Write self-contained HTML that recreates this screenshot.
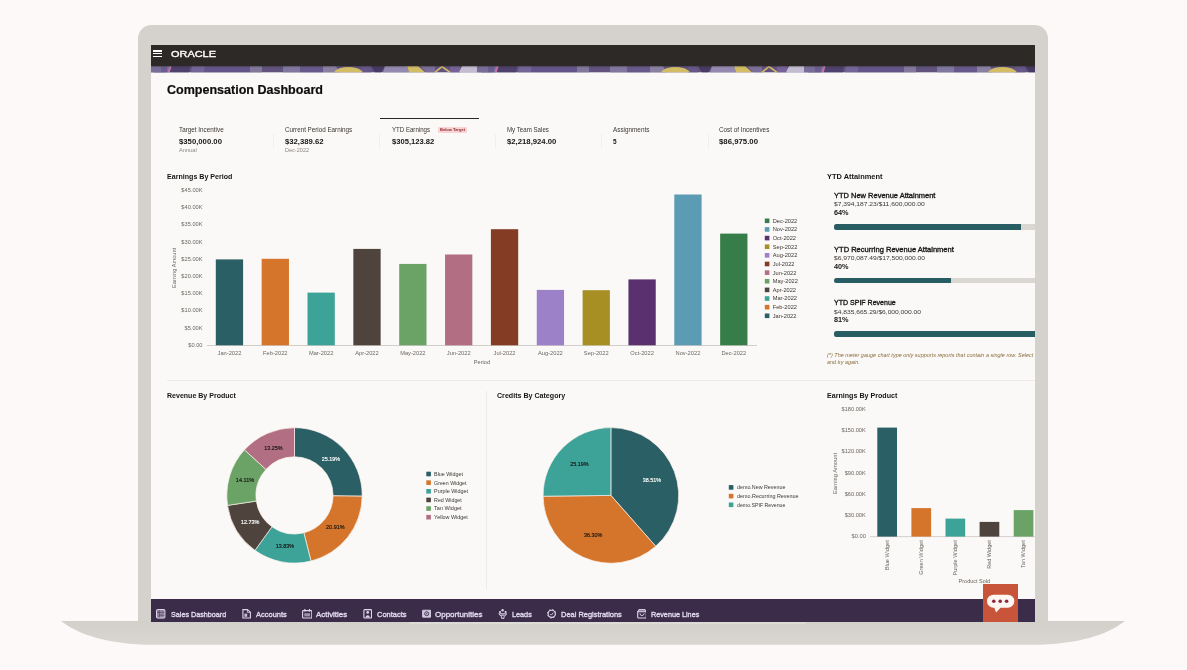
<!DOCTYPE html>
<html lang="en"><head><meta charset="utf-8"><title>Compensation Dashboard</title>
<style>
html,body{margin:0;padding:0}
body{width:1187px;height:670px;overflow:hidden;background:#fdf9f8;font-family:"Liberation Sans",sans-serif;position:relative}
.abs{position:absolute}
.full{position:absolute;left:0;top:0;overflow:visible}
svg text{font-family:"Liberation Sans",sans-serif}
.t{position:absolute;white-space:nowrap;display:block}
h1,h2{margin:0;font-size:inherit;font-weight:inherit}
.bezel{left:138px;top:25.4px;width:910px;height:596.6px;background:#d5d1cc;border-radius:13.5px 13.5px 0 0}
.screen{left:151px;top:45px;width:884px;height:576.6px;background:#fbf9f8;overflow:hidden}
.pg{position:absolute;left:-151px;top:-45px;width:1187px;height:670px}
.menu i{display:block;height:1.5px;background:#fff;margin-bottom:1.25px}
.badge{background:#f8d4d6;border-radius:1px}
.track{background:#dad7d3;border-radius:2.5px;overflow:hidden}
.track div{height:100%;background:#285d63}
.semi{-webkit-text-stroke:0.33px currentColor}
.semi2{-webkit-text-stroke:0.4px currentColor}
.navi{text-decoration:none}
.logo{-webkit-text-stroke:0.35px #fff}
</style></head>
<body>
<div class="abs bezel"></div>
<svg class="full" width="1187" height="670" viewBox="0 0 1187 670"><defs><linearGradient id="bg" x1="0" y1="0" x2="0" y2="1"><stop offset="0" stop-color="#d3cfca"/><stop offset="1" stop-color="#d9d6d1"/></linearGradient></defs>
<path d="M61,621H1125C1111,632 1086,643 1041,644.7H145C100,643 75,632 61,621Z" fill="url(#bg)"/></svg>
<div class="abs" style="left:409px;top:621.6px;width:397px;height:2px;background:#dedbd7;border-radius:0 0 2px 2px"></div>
<div class="abs screen"><div class="pg">
<header class="abs" style="left:151px;top:45px;width:884px;height:21.6px;background:#2d2927"></header>
<div class="abs menu" style="left:153px;top:50.2px;width:9.4px;height:7px"><i></i><i></i><i></i></div>
<span class="t logo" style="left:170.60px;top:49.00px;font-size:8.6px;line-height:10.00px;color:#fff;transform:scaleX(1.272);transform-origin:left center;">ORACLE</span>
<svg class="abs" style="left:151px;top:66.4px" width="884" height="6.3" viewBox="151 0 884 6.4" preserveAspectRatio="none"><rect x="151" y="0" width="884" height="6.4" fill="#675987"/><polygon points="135.0,0 151.0,0 154.0,6.4 132.0,6.4" fill="#d5cee6"/><polygon points="153.0,0 163.0,0 163.0,6.4 154.0,6.4" fill="#4a3d6a"/><polygon points="163.0,0 169.0,0 169.0,6.4 163.0,6.4" fill="#8175a6"/><polygon points="150.0,0 161.0,0 161.0,6.4 150.0,6.4" fill="#8175a6"/><polygon points="161.0,0 167.0,0 167.0,6.4 161.0,6.4" fill="#70629a"/><polygon points="169.5,0 171.5,0 169.8,6.4 167.5,6.4" fill="#d77bb0"/><polygon points="172.0,0 190.0,0 189.0,6.4 170.0,6.4" fill="#524473"/><polygon points="192.0,0 205.0,0 204.0,6.4 191.0,6.4" fill="#7b6ea3"/><polygon points="205.0,0 250.0,0 250.0,6.4 204.0,6.4" fill="#695b92"/><polygon points="250.0,0 262.0,0 262.0,6.4 250.0,6.4" fill="#8b82a8"/><polygon points="283.0,0 300.0,0 300.0,6.4 283.0,6.4" fill="#8a80ac"/><polygon points="300.0,0 323.0,0 323.0,6.4 300.0,6.4" fill="#6e6096"/><polygon points="323.0,0 336.0,0 339.0,6.4 323.0,6.4" fill="#958bae"/><polygon points="361.0,0 371.0,0 371.0,6.4 361.0,6.4" fill="#6b5d92"/><polygon points="371.0,0 385.0,0 381.0,6.4 375.0,6.4" fill="#4a3d6a"/><polygon points="385.0,0 407.0,0 409.0,6.4 383.0,6.4" fill="#a096bf"/><polygon points="407.0,0 418.0,0 425.0,6.4 409.0,6.4" fill="#e6cd6e"/><polygon points="420.0,0 435.0,0 435.0,6.4 426.0,6.4" fill="#8477a5"/><polygon points="450.0,0 460.0,0 460.0,6.4 450.0,6.4" fill="#7f68a6"/><polygon points="462.0,0 478.0,0 481.0,6.4 459.0,6.4" fill="#d5cee6"/><polygon points="480.0,0 490.0,0 490.0,6.4 481.0,6.4" fill="#4a3d6a"/><polygon points="490.0,0 496.0,0 496.0,6.4 490.0,6.4" fill="#8175a6"/><path d="M334,6.4C338,-0.5 358,-1 363,6.4Z" fill="#e6cd6e"/><path d="M435,6.4L442,0.5L450,6.4" fill="none" stroke="#e6cd6e" stroke-width="1.6"/><polygon points="477.0,0 488.0,0 488.0,6.4 477.0,6.4" fill="#8175a6"/><polygon points="488.0,0 494.0,0 494.0,6.4 488.0,6.4" fill="#70629a"/><polygon points="496.5,0 498.5,0 496.8,6.4 494.5,6.4" fill="#d77bb0"/><polygon points="499.0,0 517.0,0 516.0,6.4 497.0,6.4" fill="#524473"/><polygon points="519.0,0 532.0,0 531.0,6.4 518.0,6.4" fill="#7b6ea3"/><polygon points="532.0,0 577.0,0 577.0,6.4 531.0,6.4" fill="#695b92"/><polygon points="577.0,0 589.0,0 589.0,6.4 577.0,6.4" fill="#8b82a8"/><polygon points="610.0,0 627.0,0 627.0,6.4 610.0,6.4" fill="#8a80ac"/><polygon points="627.0,0 650.0,0 650.0,6.4 627.0,6.4" fill="#6e6096"/><polygon points="650.0,0 663.0,0 666.0,6.4 650.0,6.4" fill="#958bae"/><polygon points="688.0,0 698.0,0 698.0,6.4 688.0,6.4" fill="#6b5d92"/><polygon points="698.0,0 712.0,0 708.0,6.4 702.0,6.4" fill="#4a3d6a"/><polygon points="712.0,0 734.0,0 736.0,6.4 710.0,6.4" fill="#a096bf"/><polygon points="734.0,0 745.0,0 752.0,6.4 736.0,6.4" fill="#e6cd6e"/><polygon points="747.0,0 762.0,0 762.0,6.4 753.0,6.4" fill="#8477a5"/><polygon points="777.0,0 787.0,0 787.0,6.4 777.0,6.4" fill="#7f68a6"/><polygon points="789.0,0 805.0,0 808.0,6.4 786.0,6.4" fill="#d5cee6"/><polygon points="807.0,0 817.0,0 817.0,6.4 808.0,6.4" fill="#4a3d6a"/><polygon points="817.0,0 823.0,0 823.0,6.4 817.0,6.4" fill="#8175a6"/><path d="M661,6.4C665,-0.5 685,-1 690,6.4Z" fill="#e6cd6e"/><path d="M762,6.4L769,0.5L777,6.4" fill="none" stroke="#e6cd6e" stroke-width="1.6"/><polygon points="804.0,0 815.0,0 815.0,6.4 804.0,6.4" fill="#8175a6"/><polygon points="815.0,0 821.0,0 821.0,6.4 815.0,6.4" fill="#70629a"/><polygon points="823.5,0 825.5,0 823.8,6.4 821.5,6.4" fill="#d77bb0"/><polygon points="826.0,0 844.0,0 843.0,6.4 824.0,6.4" fill="#524473"/><polygon points="846.0,0 859.0,0 858.0,6.4 845.0,6.4" fill="#7b6ea3"/><polygon points="859.0,0 904.0,0 904.0,6.4 858.0,6.4" fill="#695b92"/><polygon points="904.0,0 916.0,0 916.0,6.4 904.0,6.4" fill="#8b82a8"/><polygon points="937.0,0 954.0,0 954.0,6.4 937.0,6.4" fill="#8a80ac"/><polygon points="954.0,0 977.0,0 977.0,6.4 954.0,6.4" fill="#6e6096"/><polygon points="977.0,0 990.0,0 993.0,6.4 977.0,6.4" fill="#958bae"/><polygon points="1015.0,0 1025.0,0 1025.0,6.4 1015.0,6.4" fill="#6b5d92"/><polygon points="1025.0,0 1039.0,0 1035.0,6.4 1029.0,6.4" fill="#4a3d6a"/><path d="M988,6.4C992,-0.5 1012,-1 1017,6.4Z" fill="#e6cd6e"/><rect x="151" y="0" width="884" height="6.4" fill="#2d2927" opacity=".1"/><rect x="151" y="0" width="884" height="1.2" fill="#2d2927" opacity=".35"/></svg>
<h1 class="abs0"><span class="t " style="left:167.00px;top:83.00px;font-size:12.4px;line-height:14.00px;color:#0e0d0c;transform:scaleX(1.011);transform-origin:left center;font-weight:700;-webkit-text-stroke:0.2px #0e0d0c;">Compensation Dashboard</span></h1>
<div class="tabs">
<div class="abs" style="left:379.5px;top:117.6px;width:99.7px;height:1.4px;background:#2b2725"></div>
<div class="tab"><span class="t " style="left:178.90px;top:126.00px;font-size:6.8px;line-height:7.00px;color:#3a3632;transform:scaleX(0.931);transform-origin:left center;">Target Incentive</span><span class="t " style="left:178.90px;top:137.00px;font-size:7.7px;line-height:9.00px;color:#161513;transform:scaleX(1.004);transform-origin:left center;font-weight:700;">$350,000.00</span><span class="t " style="left:178.90px;top:147.00px;font-size:5.6px;line-height:6.00px;color:#8c8782;transform:scaleX(1.015);transform-origin:left center;">Annual</span></div>
<div class="tab"><span class="t " style="left:285.10px;top:126.00px;font-size:6.8px;line-height:7.00px;color:#3a3632;transform:scaleX(0.921);transform-origin:left center;">Current Period Earnings</span><span class="t " style="left:285.10px;top:137.00px;font-size:7.7px;line-height:9.00px;color:#161513;transform:scaleX(1.002);transform-origin:left center;font-weight:700;">$32,389.62</span><span class="t " style="left:285.10px;top:147.00px;font-size:5.6px;line-height:6.00px;color:#8c8782;transform:scaleX(0.992);transform-origin:left center;">Dec-2022</span></div>
<div class="tab"><span class="t " style="left:392.00px;top:126.00px;font-size:6.8px;line-height:7.00px;color:#3a3632;transform:scaleX(0.898);transform-origin:left center;">YTD Earnings</span><span class="t " style="left:392.00px;top:137.00px;font-size:7.7px;line-height:9.00px;color:#161513;transform:scaleX(0.990);transform-origin:left center;font-weight:700;">$305,123.82</span></div>
<span class="abs badge" style="left:438px;top:127.2px;width:28.8px;height:5.6px"></span><span class="t " style="left:440.00px;top:127.00px;font-size:4.3px;line-height:5.00px;color:#8f2a2a;transform:scaleX(0.937);transform-origin:left center;font-weight:700;">Below Target</span>
<div class="tab"><span class="t " style="left:506.50px;top:126.00px;font-size:6.8px;line-height:7.00px;color:#3a3632;transform:scaleX(0.904);transform-origin:left center;">My Team Sales</span><span class="t " style="left:506.50px;top:137.00px;font-size:7.7px;line-height:9.00px;color:#161513;transform:scaleX(1.005);transform-origin:left center;font-weight:700;">$2,218,924.00</span></div>
<div class="tab"><span class="t " style="left:612.60px;top:126.00px;font-size:6.8px;line-height:7.00px;color:#3a3632;transform:scaleX(0.935);transform-origin:left center;">Assignments</span><span class="t " style="left:612.60px;top:137.00px;font-size:7.7px;line-height:9.00px;color:#161513;transform:scaleX(0.841);transform-origin:left center;font-weight:700;">5</span></div>
<div class="tab"><span class="t " style="left:718.70px;top:126.00px;font-size:6.8px;line-height:7.00px;color:#3a3632;transform:scaleX(0.931);transform-origin:left center;">Cost of Incentives</span><span class="t " style="left:718.70px;top:137.00px;font-size:7.7px;line-height:9.00px;color:#161513;transform:scaleX(1.015);transform-origin:left center;font-weight:700;">$86,975.00</span></div>
<div class="abs" style="left:272.7px;top:134px;width:1px;height:14px;background:#f1eeeb"></div>
<div class="abs" style="left:379.2px;top:134px;width:1px;height:14px;background:#f1eeeb"></div>
<div class="abs" style="left:494.5px;top:134px;width:1px;height:14px;background:#f1eeeb"></div>
<div class="abs" style="left:601px;top:134px;width:1px;height:14px;background:#f1eeeb"></div>
<div class="abs" style="left:707.5px;top:134px;width:1px;height:14px;background:#f1eeeb"></div>
</div>
<section class="card">
<h2 class="abs0"><span class="t " style="left:166.90px;top:172.00px;font-size:7.3px;line-height:9.00px;color:#161513;transform:scaleX(0.971);transform-origin:left center;font-weight:700;">Earnings By Period</span></h2>
<svg class="full" width="1187" height="670" viewBox="0 0 1187 670">
<text x="181.39" y="192.09" font-size="5.5" fill="#6a655f" textLength="21.11" lengthAdjust="spacingAndGlyphs">$45.00K</text>
<text x="181.39" y="209.29" font-size="5.5" fill="#6a655f" textLength="21.11" lengthAdjust="spacingAndGlyphs">$40.00K</text>
<text x="181.39" y="226.49" font-size="5.5" fill="#6a655f" textLength="21.11" lengthAdjust="spacingAndGlyphs">$35.00K</text>
<text x="181.39" y="243.69" font-size="5.5" fill="#6a655f" textLength="21.11" lengthAdjust="spacingAndGlyphs">$30.00K</text>
<text x="181.39" y="260.89" font-size="5.5" fill="#6a655f" textLength="21.11" lengthAdjust="spacingAndGlyphs">$25.00K</text>
<text x="181.39" y="278.09" font-size="5.5" fill="#6a655f" textLength="21.11" lengthAdjust="spacingAndGlyphs">$20.00K</text>
<text x="181.39" y="295.29" font-size="5.5" fill="#6a655f" textLength="21.11" lengthAdjust="spacingAndGlyphs">$15.00K</text>
<text x="181.39" y="312.49" font-size="5.5" fill="#6a655f" textLength="21.11" lengthAdjust="spacingAndGlyphs">$10.00K</text>
<text x="184.54" y="329.69" font-size="5.5" fill="#6a655f" textLength="17.96" lengthAdjust="spacingAndGlyphs">$5.00K</text>
<text x="188.32" y="346.89" font-size="5.5" fill="#6a655f" textLength="14.18" lengthAdjust="spacingAndGlyphs">$0.00</text>
<rect x="206.7" y="345" width="550.3" height="0.8" fill="#c9c5c0"/>
<rect x="215.80" y="259.4" width="27.3" height="85.90" fill="#2a5f65"/>
<text x="217.55" y="355.09" font-size="5.5" fill="#6a655f" textLength="23.80" lengthAdjust="spacingAndGlyphs">Jan-2022</text>
<rect x="261.65" y="258.8" width="27.3" height="86.50" fill="#d4752b"/>
<text x="263.08" y="355.09" font-size="5.5" fill="#6a655f" textLength="24.43" lengthAdjust="spacingAndGlyphs">Feb-2022</text>
<rect x="307.50" y="292.6" width="27.3" height="52.70" fill="#3da398"/>
<text x="308.94" y="355.09" font-size="5.5" fill="#6a655f" textLength="24.43" lengthAdjust="spacingAndGlyphs">Mar-2022</text>
<rect x="353.35" y="248.9" width="27.3" height="96.40" fill="#4e443d"/>
<text x="355.26" y="355.09" font-size="5.5" fill="#6a655f" textLength="23.48" lengthAdjust="spacingAndGlyphs">Apr-2022</text>
<rect x="399.20" y="263.9" width="27.3" height="81.40" fill="#6ba266"/>
<text x="400.16" y="355.09" font-size="5.5" fill="#6a655f" textLength="25.38" lengthAdjust="spacingAndGlyphs">May-2022</text>
<rect x="445.05" y="254.5" width="27.3" height="90.80" fill="#b26e83"/>
<text x="446.80" y="355.09" font-size="5.5" fill="#6a655f" textLength="23.80" lengthAdjust="spacingAndGlyphs">Jun-2022</text>
<rect x="490.90" y="229.2" width="27.3" height="116.10" fill="#853c24"/>
<text x="493.60" y="355.09" font-size="5.5" fill="#6a655f" textLength="21.89" lengthAdjust="spacingAndGlyphs">Jul-2022</text>
<rect x="536.75" y="289.9" width="27.3" height="55.40" fill="#9c80c8"/>
<text x="538.02" y="355.09" font-size="5.5" fill="#6a655f" textLength="24.75" lengthAdjust="spacingAndGlyphs">Aug-2022</text>
<rect x="582.60" y="290.2" width="27.3" height="55.10" fill="#a88f24"/>
<text x="583.87" y="355.09" font-size="5.5" fill="#6a655f" textLength="24.75" lengthAdjust="spacingAndGlyphs">Sep-2022</text>
<rect x="628.45" y="279.4" width="27.3" height="65.90" fill="#5a306f"/>
<text x="630.36" y="355.09" font-size="5.5" fill="#6a655f" textLength="23.48" lengthAdjust="spacingAndGlyphs">Oct-2022</text>
<rect x="674.30" y="194.5" width="27.3" height="150.80" fill="#5c9bb4"/>
<text x="675.58" y="355.09" font-size="5.5" fill="#6a655f" textLength="24.75" lengthAdjust="spacingAndGlyphs">Nov-2022</text>
<rect x="720.15" y="233.6" width="27.3" height="111.70" fill="#367d4a"/>
<text x="721.43" y="355.09" font-size="5.5" fill="#6a655f" textLength="24.75" lengthAdjust="spacingAndGlyphs">Dec-2022</text>
<text x="473.80" y="364.39" font-size="5.2" fill="#6a655f" textLength="16.20" lengthAdjust="spacingAndGlyphs">Period</text>
<text x="154.30" y="269.80" font-size="5.2" fill="#6a655f" textLength="40.30" lengthAdjust="spacingAndGlyphs" transform="rotate(-90 174.40 268.00)">Earning Amount</text>
<rect x="764.8" y="218.50" width="4.6" height="4.6" fill="#367d4a"/>
<text x="772.70" y="222.73" font-size="5.6" fill="#3a3632" textLength="24.60" lengthAdjust="spacingAndGlyphs">Dec-2022</text>
<rect x="764.8" y="227.14" width="4.6" height="4.6" fill="#5c9bb4"/>
<text x="772.70" y="231.36" font-size="5.6" fill="#3a3632" textLength="24.60" lengthAdjust="spacingAndGlyphs">Nov-2022</text>
<rect x="764.8" y="235.77" width="4.6" height="4.6" fill="#5a306f"/>
<text x="772.70" y="240.00" font-size="5.6" fill="#3a3632" textLength="23.34" lengthAdjust="spacingAndGlyphs">Oct-2022</text>
<rect x="764.8" y="244.41" width="4.6" height="4.6" fill="#a88f24"/>
<text x="772.70" y="248.63" font-size="5.6" fill="#3a3632" textLength="24.61" lengthAdjust="spacingAndGlyphs">Sep-2022</text>
<rect x="764.8" y="253.04" width="4.6" height="4.6" fill="#9c80c8"/>
<text x="772.70" y="257.27" font-size="5.6" fill="#3a3632" textLength="24.61" lengthAdjust="spacingAndGlyphs">Aug-2022</text>
<rect x="764.8" y="261.68" width="4.6" height="4.6" fill="#853c24"/>
<text x="772.70" y="265.91" font-size="5.6" fill="#3a3632" textLength="21.76" lengthAdjust="spacingAndGlyphs">Jul-2022</text>
<rect x="764.8" y="270.32" width="4.6" height="4.6" fill="#b26e83"/>
<text x="772.70" y="274.54" font-size="5.6" fill="#3a3632" textLength="23.66" lengthAdjust="spacingAndGlyphs">Jun-2022</text>
<rect x="764.8" y="278.95" width="4.6" height="4.6" fill="#6ba266"/>
<text x="772.70" y="283.18" font-size="5.6" fill="#3a3632" textLength="25.23" lengthAdjust="spacingAndGlyphs">May-2022</text>
<rect x="764.8" y="287.59" width="4.6" height="4.6" fill="#4e443d"/>
<text x="772.70" y="291.81" font-size="5.6" fill="#3a3632" textLength="23.34" lengthAdjust="spacingAndGlyphs">Apr-2022</text>
<rect x="764.8" y="296.22" width="4.6" height="4.6" fill="#3da398"/>
<text x="772.70" y="300.45" font-size="5.6" fill="#3a3632" textLength="24.28" lengthAdjust="spacingAndGlyphs">Mar-2022</text>
<rect x="764.8" y="304.86" width="4.6" height="4.6" fill="#d4752b"/>
<text x="772.70" y="309.09" font-size="5.6" fill="#3a3632" textLength="24.29" lengthAdjust="spacingAndGlyphs">Feb-2022</text>
<rect x="764.8" y="313.50" width="4.6" height="4.6" fill="#2a5f65"/>
<text x="772.70" y="317.72" font-size="5.6" fill="#3a3632" textLength="23.66" lengthAdjust="spacingAndGlyphs">Jan-2022</text>
</svg></section>
<section class="card">
<h2 class="abs0"><span class="t " style="left:827.20px;top:172.00px;font-size:7.3px;line-height:9.00px;color:#161513;transform:scaleX(1.019);transform-origin:left center;font-weight:700;">YTD Attainment</span></h2>
<div class="meter">
<span class="t semi" style="left:834.40px;top:191.00px;font-size:7.4px;line-height:9.00px;color:#161513;transform:scaleX(1.012);transform-origin:left center;">YTD New Revenue Attainment</span>
<span class="t " style="left:834.40px;top:200.00px;font-size:6.2px;line-height:7.00px;color:#3a3632;transform:scaleX(1.082);transform-origin:left center;">$7,394,187.23/$11,600,000.00</span>
<span class="t " style="left:834.40px;top:209.00px;font-size:7px;line-height:7.00px;color:#161513;transform:scaleX(1.042);transform-origin:left center;font-weight:700;">64%</span>
<div class="abs track" style="left:834.4px;top:223.9px;width:291.9px;height:5.9px"><div style="width:186.8px"></div></div>
</div>
<div class="meter">
<span class="t semi" style="left:834.40px;top:245.00px;font-size:7.4px;line-height:9.00px;color:#161513;transform:scaleX(1.020);transform-origin:left center;">YTD Recurring Revenue Attainment</span>
<span class="t " style="left:834.40px;top:254.00px;font-size:6.2px;line-height:7.00px;color:#3a3632;transform:scaleX(1.080);transform-origin:left center;">$6,970,087.49/$17,500,000.00</span>
<span class="t " style="left:834.40px;top:263.00px;font-size:7px;line-height:7.00px;color:#161513;transform:scaleX(1.042);transform-origin:left center;font-weight:700;">40%</span>
<div class="abs track" style="left:834.4px;top:277.6px;width:291.9px;height:5.9px"><div style="width:116.8px"></div></div>
</div>
<div class="meter">
<span class="t semi" style="left:834.40px;top:298.00px;font-size:7.4px;line-height:9.00px;color:#161513;transform:scaleX(0.951);transform-origin:left center;">YTD SPIF Revenue</span>
<span class="t " style="left:834.40px;top:308.00px;font-size:6.2px;line-height:7.00px;color:#3a3632;transform:scaleX(1.075);transform-origin:left center;">$4,835,665.29/$6,000,000.00</span>
<span class="t " style="left:834.40px;top:316.00px;font-size:7px;line-height:7.00px;color:#161513;transform:scaleX(1.042);transform-origin:left center;font-weight:700;">81%</span>
<div class="abs track" style="left:834.4px;top:331.3px;width:291.9px;height:5.9px"><div style="width:236.4px"></div></div>
</div>
<span class="t " style="left:827.20px;top:352.00px;font-size:5.2px;line-height:6.00px;color:#8b6f3e;transform:scaleX(1.058);transform-origin:left center;font-style:italic;">(*) The meter gauge chart type only supports reports that contain a single row. Select</span>
<span class="t " style="left:827.20px;top:359.00px;font-size:5.2px;line-height:6.00px;color:#8b6f3e;transform:scaleX(1.041);transform-origin:left center;font-style:italic;">and try again.</span>
</section>
<div class="abs" style="left:167px;top:380.3px;width:880px;height:0.9px;background:#eeebe8"></div>
<div class="abs" style="left:485.5px;top:390.5px;width:0.9px;height:198px;background:#eeebe8"></div>
<section class="card">
<h2 class="abs0"><span class="t " style="left:167.20px;top:391.00px;font-size:7.3px;line-height:9.00px;color:#161513;transform:scaleX(0.964);transform-origin:left center;font-weight:700;">Revenue By Product</span></h2>
<svg class="full" width="1187" height="670" viewBox="0 0 1187 670">
<path d="M294.50,427.70A67.7,67.7 0 0 1 362.20,496.19L333.10,495.85A38.6,38.6 0 0 0 294.50,456.80Z" fill="#2a5f65" stroke="#fbf1ea" stroke-width="0.7"/>
<path d="M362.20,496.19A67.7,67.7 0 0 1 310.96,561.07L303.89,532.84A38.6,38.6 0 0 0 333.10,495.85Z" fill="#d4752b" stroke="#fbf1ea" stroke-width="0.7"/>
<path d="M310.96,561.07A67.7,67.7 0 0 1 254.99,550.37L271.97,526.74A38.6,38.6 0 0 0 303.89,532.84Z" fill="#3da398" stroke="#fbf1ea" stroke-width="0.7"/>
<path d="M254.99,550.37A67.7,67.7 0 0 1 227.54,505.38L256.32,501.09A38.6,38.6 0 0 0 271.97,526.74Z" fill="#4e443d" stroke="#fbf1ea" stroke-width="0.7"/>
<path d="M227.54,505.38A67.7,67.7 0 0 1 244.43,449.83L265.95,469.42A38.6,38.6 0 0 0 256.32,501.09Z" fill="#6ba266" stroke="#fbf1ea" stroke-width="0.7"/>
<path d="M244.43,449.83A67.7,67.7 0 0 1 294.50,427.70L294.50,456.80A38.6,38.6 0 0 0 265.95,469.42Z" fill="#b26e83" stroke="#fbf1ea" stroke-width="0.7"/>
<text x="321.70" y="460.90" font-size="5.8" fill="#fff" textLength="18.40" lengthAdjust="spacingAndGlyphs" stroke="#fff" stroke-width="0.15">25.19%</text>
<text x="326.10" y="529.20" font-size="5.8" fill="#161513" textLength="18.40" lengthAdjust="spacingAndGlyphs" stroke="#161513" stroke-width="0.15">20.91%</text>
<text x="275.70" y="547.70" font-size="5.8" fill="#161513" textLength="18.40" lengthAdjust="spacingAndGlyphs" stroke="#161513" stroke-width="0.15">13.83%</text>
<text x="241.00" y="523.70" font-size="5.8" fill="#fff" textLength="18.40" lengthAdjust="spacingAndGlyphs" stroke="#fff" stroke-width="0.15">12.73%</text>
<text x="235.80" y="482.20" font-size="5.8" fill="#161513" textLength="18.40" lengthAdjust="spacingAndGlyphs" stroke="#161513" stroke-width="0.15">14.11%</text>
<text x="264.30" y="449.90" font-size="5.8" fill="#161513" textLength="18.40" lengthAdjust="spacingAndGlyphs" stroke="#161513" stroke-width="0.15">13.25%</text>
<rect x="426.3" y="471.70" width="4.6" height="4.6" fill="#2a5f65"/>
<text x="434.10" y="475.93" font-size="5.6" fill="#3a3632" textLength="28.90" lengthAdjust="spacingAndGlyphs">Blue Widget</text>
<rect x="426.3" y="480.34" width="4.6" height="4.6" fill="#d4752b"/>
<text x="434.10" y="484.57" font-size="5.6" fill="#3a3632" textLength="32.40" lengthAdjust="spacingAndGlyphs">Green Widget</text>
<rect x="426.3" y="488.98" width="4.6" height="4.6" fill="#3da398"/>
<text x="434.10" y="493.21" font-size="5.6" fill="#3a3632" textLength="34.00" lengthAdjust="spacingAndGlyphs">Purple Widget</text>
<rect x="426.3" y="497.62" width="4.6" height="4.6" fill="#4e443d"/>
<text x="434.10" y="501.85" font-size="5.6" fill="#3a3632" textLength="27.70" lengthAdjust="spacingAndGlyphs">Red Widget</text>
<rect x="426.3" y="506.26" width="4.6" height="4.6" fill="#6ba266"/>
<text x="434.10" y="510.49" font-size="5.6" fill="#3a3632" textLength="27.40" lengthAdjust="spacingAndGlyphs">Tan Widget</text>
<rect x="426.3" y="514.90" width="4.6" height="4.6" fill="#b26e83"/>
<text x="434.10" y="519.13" font-size="5.6" fill="#3a3632" textLength="33.70" lengthAdjust="spacingAndGlyphs">Yellow Widget</text>
</svg></section>
<section class="card">
<h2 class="abs0"><span class="t " style="left:497.20px;top:391.00px;font-size:7.3px;line-height:9.00px;color:#161513;transform:scaleX(0.972);transform-origin:left center;font-weight:700;">Credits By Category</span></h2>
<svg class="full" width="1187" height="670" viewBox="0 0 1187 670">
<path d="M610.9,495.4L610.90,427.60A67.8,67.8 0 0 1 655.70,546.29Z" fill="#2a5f65" stroke="#fbf1ea" stroke-width="0.7"/>
<path d="M610.9,495.4L655.70,546.29A67.8,67.8 0 0 1 543.10,496.21Z" fill="#d4752b" stroke="#fbf1ea" stroke-width="0.7"/>
<path d="M610.9,495.4L543.10,496.21A67.8,67.8 0 0 1 610.90,427.60Z" fill="#3da398" stroke="#fbf1ea" stroke-width="0.7"/>
<text x="642.70" y="481.50" font-size="5.8" fill="#fff" textLength="18.40" lengthAdjust="spacingAndGlyphs" stroke="#fff" stroke-width="0.15">38.51%</text>
<text x="584.00" y="537.10" font-size="5.8" fill="#161513" textLength="18.40" lengthAdjust="spacingAndGlyphs" stroke="#161513" stroke-width="0.15">36.30%</text>
<text x="570.30" y="466.40" font-size="5.8" fill="#161513" textLength="18.40" lengthAdjust="spacingAndGlyphs" stroke="#161513" stroke-width="0.15">25.19%</text>
<rect x="728.8" y="485.10" width="4.6" height="4.6" fill="#2a5f65"/>
<text x="737.00" y="489.33" font-size="5.6" fill="#3a3632" textLength="48.40" lengthAdjust="spacingAndGlyphs">demo.New Revenue</text>
<rect x="728.8" y="493.80" width="4.6" height="4.6" fill="#d4752b"/>
<text x="737.00" y="498.03" font-size="5.6" fill="#3a3632" textLength="61.50" lengthAdjust="spacingAndGlyphs">demo.Recurring Revenue</text>
<rect x="728.8" y="502.50" width="4.6" height="4.6" fill="#3da398"/>
<text x="737.00" y="506.73" font-size="5.6" fill="#3a3632" textLength="48.40" lengthAdjust="spacingAndGlyphs">demo.SPIF Revenue</text>
</svg></section>
<section class="card">
<h2 class="abs0"><span class="t " style="left:827.10px;top:391.00px;font-size:7.3px;line-height:9.00px;color:#161513;transform:scaleX(0.974);transform-origin:left center;font-weight:700;">Earnings By Product</span></h2>
<svg class="full" width="1187" height="670" viewBox="0 0 1187 670">
<text x="841.54" y="410.79" font-size="5.5" fill="#6a655f" textLength="24.26" lengthAdjust="spacingAndGlyphs">$180.00K</text>
<text x="841.54" y="432.04" font-size="5.5" fill="#6a655f" textLength="24.26" lengthAdjust="spacingAndGlyphs">$150.00K</text>
<text x="841.54" y="453.29" font-size="5.5" fill="#6a655f" textLength="24.26" lengthAdjust="spacingAndGlyphs">$120.00K</text>
<text x="844.69" y="474.54" font-size="5.5" fill="#6a655f" textLength="21.11" lengthAdjust="spacingAndGlyphs">$90.00K</text>
<text x="844.69" y="495.79" font-size="5.5" fill="#6a655f" textLength="21.11" lengthAdjust="spacingAndGlyphs">$60.00K</text>
<text x="844.69" y="517.04" font-size="5.5" fill="#6a655f" textLength="21.11" lengthAdjust="spacingAndGlyphs">$30.00K</text>
<text x="851.62" y="538.29" font-size="5.5" fill="#6a655f" textLength="14.18" lengthAdjust="spacingAndGlyphs">$0.00</text>
<rect x="870" y="536.3" width="180" height="0.8" fill="#c9c5c0"/>
<rect x="877.30" y="427.6" width="19.7" height="109.00" fill="#2a5f65"/>
<text x="856.75" y="542.20" font-size="5.5" fill="#6a655f" textLength="29.90" lengthAdjust="spacingAndGlyphs" transform="rotate(-90 886.65 540.30)">Blue Widget</text>
<rect x="911.40" y="508.1" width="19.7" height="28.50" fill="#d4752b"/>
<text x="886.35" y="542.20" font-size="5.5" fill="#6a655f" textLength="34.40" lengthAdjust="spacingAndGlyphs" transform="rotate(-90 920.75 540.30)">Green Widget</text>
<rect x="945.50" y="518.6" width="19.7" height="18.00" fill="#3da398"/>
<text x="919.65" y="542.20" font-size="5.5" fill="#6a655f" textLength="35.20" lengthAdjust="spacingAndGlyphs" transform="rotate(-90 954.85 540.30)">Purple Widget</text>
<rect x="979.60" y="521.9" width="19.7" height="14.70" fill="#4e443d"/>
<text x="960.55" y="542.20" font-size="5.5" fill="#6a655f" textLength="28.40" lengthAdjust="spacingAndGlyphs" transform="rotate(-90 988.95 540.30)">Red Widget</text>
<rect x="1013.70" y="510.1" width="19.7" height="26.50" fill="#6ba266"/>
<text x="995.45" y="542.20" font-size="5.5" fill="#6a655f" textLength="27.60" lengthAdjust="spacingAndGlyphs" transform="rotate(-90 1023.05 540.30)">Tan Widget</text>
<text x="958.60" y="583.46" font-size="5.4" fill="#6a655f" textLength="31.50" lengthAdjust="spacingAndGlyphs">Product Sold</text>
<text x="814.50" y="475.30" font-size="5.2" fill="#6a655f" textLength="41.00" lengthAdjust="spacingAndGlyphs" transform="rotate(-90 835.00 473.50)">Earning Amount</text>
</svg></section>
<nav>
<div class="abs" style="left:151px;top:599.2px;width:884px;height:23px;background:#3b2d49"></div>
<a class="navi"><svg class="abs" style="left:156.4px;top:609px" width="9.4" height="9.6" viewBox="0 0 9.4 9.6" fill="none" stroke="#dfd6ec" stroke-width="1"><rect x=".5" y=".5" width="8.4" height="8.6" rx=".9" fill="#dfd6ec" fill-opacity=".55"/><path d="M3.3 1V8.6M1 3.3H8.4M3.3 6.2H8.4" stroke="#3b2d49" stroke-width=".7" opacity=".8"/></svg><span class="t semi2" style="left:170.60px;top:610.00px;font-size:8.1px;line-height:9.00px;color:#dfd6ec;transform:scaleX(0.890);transform-origin:left center;">Sales Dashboard</span></a>
<a class="navi"><svg class="abs" style="left:241.6px;top:609px" width="9.4" height="9.6" viewBox="0 0 9.4 9.6" fill="none" stroke="#dfd6ec" stroke-width="1"><path d="M.9 .6H5.4L8.4 3.2V9.0H.9Z" stroke-width="1.1"/><path d="M5.4 .6V3.4H8.4" stroke-width=".8"/><rect x="2.4" y="4.6" width="2.8" height="3.2" fill="#dfd6ec" stroke="none" opacity=".85"/></svg><span class="t semi2" style="left:255.80px;top:610.00px;font-size:8.1px;line-height:9.00px;color:#dfd6ec;transform:scaleX(0.924);transform-origin:left center;">Accounts</span></a>
<a class="navi"><svg class="abs" style="left:301.6px;top:609px" width="10.4" height="9.6" viewBox="0 0 10.4 9.6" fill="none" stroke="#dfd6ec" stroke-width="1"><rect x=".6" y="1.6" width="9.200000000000001" height="7.3999999999999995" rx=".7" stroke-width="1.1"/><path d="M2.9 0V2.4M7.5 0V2.4" stroke-width="1.2"/><rect x="2.3" y="4.2" width="5.800000000000001" height="3.2" fill="#dfd6ec" stroke="none" opacity=".6"/></svg><span class="t semi2" style="left:316.00px;top:610.00px;font-size:8.1px;line-height:9.00px;color:#dfd6ec;transform:scaleX(0.973);transform-origin:left center;">Activities</span></a>
<a class="navi"><svg class="abs" style="left:363.0px;top:609px" width="9.4" height="9.6" viewBox="0 0 9.4 9.6" fill="none" stroke="#dfd6ec" stroke-width="1"><rect x=".9" y=".6" width="7.6000000000000005" height="8.4" rx=".7" stroke-width="1.1"/><circle cx="4.7" cy="3.4" r="1.35" fill="#dfd6ec" stroke="none"/><path d="M2.6 8.6C2.6 5.6 6.800000000000001 5.6 6.800000000000001 8.6Z" fill="#dfd6ec" stroke="none"/><path d="M3.4 .2V1.4M6.0 .2V1.4" stroke-width=".8"/></svg><span class="t semi2" style="left:376.70px;top:610.00px;font-size:8.1px;line-height:9.00px;color:#dfd6ec;transform:scaleX(0.926);transform-origin:left center;">Contacts</span></a>
<a class="navi"><svg class="abs" style="left:421.5px;top:609px" width="9.4" height="9.6" viewBox="0 0 9.4 9.6" fill="none" stroke="#dfd6ec" stroke-width="1"><rect x=".4" y="1.2" width="8.6" height="7.0" rx=".7" fill="#dfd6ec" fill-opacity=".9" stroke-width=".8"/><circle cx="4.7" cy="4.7" r="2" stroke="#3b2d49" stroke-width=".9"/><circle cx="4.7" cy="4.7" r=".6" fill="#3b2d49" stroke="none"/></svg><span class="t semi2" style="left:435.30px;top:610.00px;font-size:8.1px;line-height:9.00px;color:#dfd6ec;transform:scaleX(0.986);transform-origin:left center;">Opportunities</span></a>
<a class="navi"><svg class="abs" style="left:497.8px;top:609px" width="9.4" height="9.6" viewBox="0 0 9.4 9.6" fill="none" stroke="#dfd6ec" stroke-width="1"><circle cx="2" cy="3" r="1.1" fill="#dfd6ec" stroke="none"/><circle cx="4.6" cy="1.3" r="1.2" fill="#dfd6ec" stroke="none"/><circle cx="7.6" cy="3" r="1.1" fill="#dfd6ec" stroke="none"/><path d="M.8 4.8H8.8L6 7.8V9.299999999999999H3.6V7.8Z" stroke-width="1" stroke-linejoin="round"/><path d="M3 6.2H6.6" stroke-width="1"/></svg><span class="t semi2" style="left:511.80px;top:610.00px;font-size:8.1px;line-height:9.00px;color:#dfd6ec;transform:scaleX(0.897);transform-origin:left center;">Leads</span></a>
<a class="navi"><svg class="abs" style="left:546.8px;top:609px" width="9.4" height="9.6" viewBox="0 0 9.4 9.6" fill="none" stroke="#dfd6ec" stroke-width="1"><circle cx="4.7" cy="4.8" r="3.6" stroke-width="1.1"/><circle cx="4.7" cy="4.8" r="4.2" stroke-width="1" stroke-dasharray="1.5 1.8"/><path d="M3.3 5L4.4 6.1L6.3 3.7" stroke-width=".9"/></svg><span class="t semi2" style="left:560.90px;top:610.00px;font-size:8.1px;line-height:9.00px;color:#dfd6ec;transform:scaleX(0.920);transform-origin:left center;">Deal Registrations</span></a>
<a class="navi"><svg class="abs" style="left:637.0px;top:609px" width="9.4" height="9.6" viewBox="0 0 9.4 9.6" fill="none" stroke="#dfd6ec" stroke-width="1"><path d="M.7 2.8H9.3V8.0Q9.3 9.0 8.3 9.0H1.7Q.7 9.0 .7 8.0Z" stroke-width="1.1"/><path d="M.9 2.8L1.9 .6H8.1L9.1 2.8" stroke-width="1" fill="#dfd6ec" fill-opacity=".5"/><path d="M3 4.4Q3 6.6 5.0 6.6Q7.0 6.6 7.0 4.4" stroke-width=".9"/></svg><span class="t semi2" style="left:651.30px;top:610.00px;font-size:8.1px;line-height:9.00px;color:#dfd6ec;transform:scaleX(0.894);transform-origin:left center;">Revenue Lines</span></a>
</nav>
<div class="abs chat" style="left:983.1px;top:584px;width:34.8px;height:38px;background:#c8553a">
<svg width="34.8" height="38" viewBox="983.1 584 34.8 38"><path d="M993.6 594.7H1007.9A6.5 6.5 0 0 1 1007.9 607.7H1000.6L996.2 612.4L994.4 607.7H993.6A6.5 6.5 0 0 1 993.6 594.7Z" fill="#fdf6f2"/>
<circle cx="993.9" cy="601.3" r="1.8" fill="#8c2b3b"/><circle cx="1000.3" cy="601.3" r="1.8" fill="#8c2b3b"/><circle cx="1006.7" cy="601.3" r="1.8" fill="#8c2b3b"/></svg></div>
</div></div>
</body></html>
